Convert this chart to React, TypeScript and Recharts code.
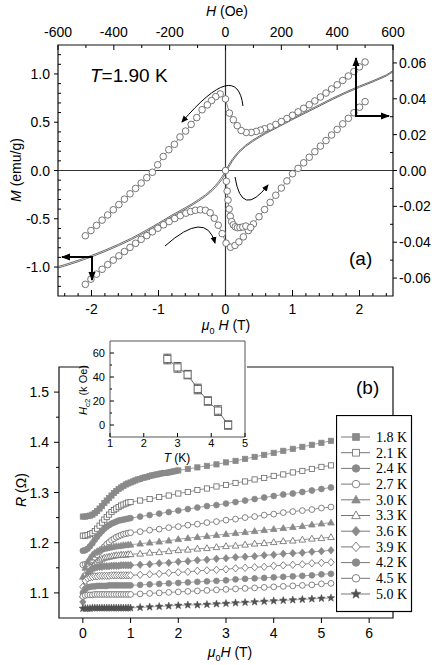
import React from 'react';
import { ComposedChart, Scatter, XAxis, YAxis, ReferenceLine, ReferenceArea, ErrorBar } from 'recharts';

const FONT = '"Liberation Sans", Arial, Helvetica, sans-serif';
const SERIF = '"Liberation Serif", "Times New Roman", serif';

// ---------- panel (a): M-H loop, read on top (Oe) and right (emu/g) axes
const loopDecH = [500, 480, 460, 440, 420, 400, 380, 360, 340, 320, 300, 280, 260, 240, 220, 200, 180, 160, 140, 125, 110, 92, 74, 56, 42, 28, 14, 0, -19, -35, -50, -65, -84, -103, -123, -143, -163, -183, -203, -223, -243, -262, -282, -302, -322, -342, -362, -382, -402, -422, -442, -462, -482, -502];
const loopDecM = [0.0605, 0.0578, 0.0552, 0.0527, 0.0502, 0.0478, 0.0455, 0.0432, 0.041, 0.0388, 0.0367, 0.0347, 0.0327, 0.0308, 0.029, 0.0273, 0.0257, 0.0243, 0.0233, 0.0225, 0.0218, 0.0212, 0.0212, 0.0223, 0.025, 0.0283, 0.032, 0.0399, 0.0427, 0.0412, 0.039, 0.0366, 0.0339, 0.0295, 0.0257, 0.022, 0.0187, 0.0146, 0.0116, 0.0078, 0.0032, -0.001, -0.004, -0.007, -0.01, -0.013, -0.016, -0.019, -0.0219, -0.0248, -0.0277, -0.0306, -0.0335, -0.0364];
const loopIncH = [-502, -482, -462, -442, -422, -402, -382, -362, -342, -322, -302, -282, -262, -242, -222, -202, -182, -162, -142, -125, -108, -90, -72, -55, -40, -26, -12, 2, 18, 34, 48, 64, 82, 100, 120, 140, 160, 180, 200, 220, 240, 260, 280, 300, 320, 340, 360, 380, 400, 420, 440, 460, 480, 500];
const loopIncM = [-0.0635, -0.0606, -0.0578, -0.0551, -0.0525, -0.05, -0.0476, -0.0452, -0.0429, -0.0406, -0.0384, -0.0363, -0.0342, -0.0322, -0.0303, -0.0285, -0.0268, -0.0252, -0.0238, -0.0229, -0.0222, -0.0219, -0.0222, -0.0236, -0.0266, -0.0305, -0.0352, -0.0405, -0.0428, -0.0418, -0.0398, -0.037, -0.0335, -0.0298, -0.0258, -0.0218, -0.0178, -0.0138, -0.0098, -0.0058, -0.0018, 0.0012, 0.0043, 0.0074, 0.0105, 0.0136, 0.0167, 0.0198, 0.0229, 0.026, 0.0291, 0.0322, 0.0353, 0.0384];
const virginH = [0, 3, 6, 9, 13, 17, 22, 28, 35, 43, 52, 62, 73, 90];
const virginM = [0, -0.006, -0.0115, -0.0165, -0.0215, -0.0255, -0.0285, -0.0303, -0.0314, -0.0319, -0.0318, -0.0315, -0.031, -0.0318];

// high-field curve, bottom (T) and left (emu/g) axes
const solidH = [-2.5, -2.4, -2.2, -2.0, -1.8, -1.6, -1.4, -1.2, -1.0, -0.8, -0.6, -0.5, -0.4, -0.3, -0.2, -0.15, -0.1, -0.05, 0, 0.05, 0.1, 0.15, 0.2, 0.3, 0.4, 0.5, 0.6, 0.8, 1.0, 1.2, 1.4, 1.6, 1.8, 2.0, 2.2, 2.4, 2.5];
const solidDec = [-0.995, -0.975, -0.93, -0.88, -0.825, -0.765, -0.7, -0.625, -0.545, -0.462, -0.385, -0.345, -0.3, -0.252, -0.192, -0.155, -0.112, -0.062, -0.005, 0.06, 0.115, 0.16, 0.2, 0.262, 0.312, 0.355, 0.395, 0.468, 0.54, 0.61, 0.68, 0.75, 0.815, 0.875, 0.93, 0.99, 1.035];
const solidInc = [-1.01, -0.99, -0.945, -0.895, -0.84, -0.78, -0.715, -0.64, -0.56, -0.478, -0.4, -0.36, -0.316, -0.268, -0.21, -0.175, -0.135, -0.09, -0.03, 0.035, 0.095, 0.142, 0.185, 0.248, 0.298, 0.342, 0.382, 0.455, 0.527, 0.597, 0.667, 0.737, 0.802, 0.862, 0.918, 0.978, 1.023];

const aBottomTicks = [-2.4, -2.2, -2, -1.8, -1.6, -1.4, -1.2, -1, -0.8, -0.6, -0.4, -0.2, 0, 0.2, 0.4, 0.6, 0.8, 1, 1.2, 1.4, 1.6, 1.8, 2, 2.2, 2.4];
const aTopTicks = [-600, -500, -400, -300, -200, -100, 0, 100, 200, 300, 400, 500, 600];
const aLeftTicks = [-1.2, -1.1, -1, -0.9, -0.8, -0.7, -0.6, -0.5, -0.4, -0.3, -0.2, -0.1, 0, 0.1, 0.2, 0.3, 0.4, 0.5, 0.6, 0.7, 0.8, 0.9, 1, 1.1, 1.2];
const aRightTicks = [-0.06, -0.05, -0.04, -0.03, -0.02, -0.01, 0, 0.01, 0.02, 0.03, 0.04, 0.05, 0.06];

// ---------- panel (b): R vs field
const denseH = [0, 0.05, 0.1, 0.15, 0.2, 0.25, 0.3, 0.35, 0.4, 0.45, 0.5, 0.55, 0.6, 0.65, 0.7, 0.75, 0.8, 0.85, 0.9, 0.95, 1];
const dense18H = [0, 0.05, 0.1, 0.15, 0.2, 0.25, 0.3, 0.35, 0.4, 0.45, 0.5, 0.55, 0.6, 0.65, 0.7, 0.75, 0.8, 0.85, 0.9, 0.95, 1, 1.05, 1.1, 1.15, 1.2, 1.25, 1.3, 1.35, 1.4, 1.45, 1.5, 1.55, 1.6, 1.65, 1.7, 1.75, 1.8, 1.85, 1.9, 1.95, 2];
const sparseH = [1.2, 1.4, 1.6, 1.8, 2, 2.2, 2.4, 2.6, 2.8, 3, 3.2, 3.4, 3.6, 3.8, 4, 4.2, 4.4, 4.6, 4.8, 5, 5.2];
const sparse18H = [2.2, 2.4, 2.6, 2.8, 3, 3.2, 3.4, 3.6, 3.8, 4, 4.2, 4.4, 4.6, 4.8, 5, 5.2];

const r18Dense = [1.252, 1.252, 1.253, 1.254, 1.256, 1.259, 1.263, 1.268, 1.273, 1.279, 1.284, 1.289, 1.294, 1.299, 1.303, 1.307, 1.31, 1.313, 1.316, 1.318, 1.32, 1.322, 1.324, 1.326, 1.327, 1.329, 1.33, 1.331, 1.333, 1.334, 1.335, 1.336, 1.337, 1.338, 1.339, 1.339, 1.34, 1.341, 1.342, 1.343, 1.344];
const r18Sparse = [1.347, 1.35, 1.353, 1.356, 1.36, 1.363, 1.367, 1.371, 1.375, 1.379, 1.383, 1.387, 1.391, 1.395, 1.399, 1.403];
const r21Dense = [1.214, 1.214, 1.215, 1.217, 1.219, 1.223, 1.228, 1.234, 1.24, 1.246, 1.251, 1.256, 1.261, 1.265, 1.268, 1.271, 1.274, 1.276, 1.278, 1.28, 1.281];
const r21Sparse = [1.284, 1.287, 1.291, 1.294, 1.298, 1.301, 1.305, 1.308, 1.312, 1.315, 1.319, 1.322, 1.326, 1.329, 1.333, 1.336, 1.34, 1.343, 1.347, 1.351, 1.354];
const r24Dense = [1.184, 1.185, 1.188, 1.193, 1.199, 1.206, 1.212, 1.218, 1.223, 1.228, 1.232, 1.235, 1.238, 1.24, 1.242, 1.244, 1.245, 1.246, 1.247, 1.248, 1.249];
const r24Sparse = [1.252, 1.255, 1.258, 1.261, 1.264, 1.267, 1.27, 1.273, 1.275, 1.278, 1.281, 1.284, 1.287, 1.29, 1.293, 1.296, 1.298, 1.301, 1.304, 1.307, 1.31];
const r27Dense = [1.156, 1.157, 1.159, 1.162, 1.166, 1.171, 1.176, 1.182, 1.187, 1.192, 1.197, 1.201, 1.205, 1.208, 1.211, 1.213, 1.215, 1.217, 1.218, 1.219, 1.22];
const r27Sparse = [1.222, 1.225, 1.227, 1.23, 1.232, 1.235, 1.237, 1.24, 1.242, 1.245, 1.247, 1.25, 1.252, 1.255, 1.257, 1.26, 1.262, 1.264, 1.266, 1.269, 1.271];
const r30Dense = [1.132, 1.15, 1.162, 1.17, 1.176, 1.18, 1.183, 1.185, 1.187, 1.188, 1.189, 1.19, 1.191, 1.192, 1.193, 1.193, 1.194, 1.195, 1.195, 1.196, 1.196];
const r30Sparse = [1.198, 1.2, 1.202, 1.204, 1.207, 1.209, 1.211, 1.213, 1.215, 1.217, 1.219, 1.221, 1.223, 1.225, 1.227, 1.229, 1.231, 1.233, 1.236, 1.238, 1.24];
const r33Dense = [1.096, 1.118, 1.133, 1.144, 1.152, 1.158, 1.162, 1.165, 1.168, 1.17, 1.171, 1.172, 1.173, 1.174, 1.175, 1.175, 1.176, 1.176, 1.176, 1.177, 1.177];
const r33Sparse = [1.178, 1.18, 1.181, 1.183, 1.185, 1.186, 1.188, 1.189, 1.191, 1.193, 1.194, 1.196, 1.198, 1.199, 1.201, 1.203, 1.204, 1.206, 1.208, 1.209, 1.211];
const r36Dense = [1.082, 1.128, 1.139, 1.145, 1.148, 1.15, 1.151, 1.152, 1.152, 1.153, 1.153, 1.153, 1.154, 1.154, 1.154, 1.154, 1.155, 1.155, 1.155, 1.155, 1.155];
const r36Sparse = [1.156, 1.157, 1.159, 1.16, 1.162, 1.163, 1.165, 1.166, 1.168, 1.169, 1.171, 1.172, 1.173, 1.175, 1.176, 1.178, 1.179, 1.18, 1.182, 1.183, 1.185];
const r39Dense = [1.112, 1.124, 1.129, 1.131, 1.132, 1.133, 1.133, 1.134, 1.134, 1.134, 1.134, 1.134, 1.135, 1.135, 1.135, 1.135, 1.135, 1.135, 1.135, 1.135, 1.135];
const r39Sparse = [1.136, 1.137, 1.138, 1.14, 1.141, 1.142, 1.144, 1.145, 1.146, 1.147, 1.149, 1.15, 1.151, 1.152, 1.154, 1.155, 1.156, 1.157, 1.159, 1.16, 1.161];
const r42Dense = [1.1, 1.108, 1.111, 1.112, 1.113, 1.113, 1.114, 1.114, 1.114, 1.114, 1.114, 1.115, 1.115, 1.115, 1.115, 1.115, 1.115, 1.115, 1.115, 1.115, 1.115];
const r42Sparse = [1.116, 1.117, 1.118, 1.119, 1.12, 1.121, 1.122, 1.123, 1.124, 1.125, 1.127, 1.128, 1.129, 1.13, 1.131, 1.132, 1.133, 1.134, 1.135, 1.137, 1.138];
const r45Dense = [1.093, 1.095, 1.096, 1.096, 1.096, 1.097, 1.097, 1.097, 1.097, 1.097, 1.097, 1.097, 1.097, 1.097, 1.097, 1.097, 1.097, 1.097, 1.097, 1.097, 1.097];
const r45Sparse = [1.098, 1.099, 1.1, 1.101, 1.102, 1.103, 1.104, 1.105, 1.106, 1.107, 1.108, 1.109, 1.11, 1.111, 1.112, 1.113, 1.114, 1.115, 1.116, 1.118, 1.119];
const r50Dense = [1.069, 1.069, 1.069, 1.069, 1.07, 1.07, 1.07, 1.07, 1.07, 1.07, 1.07, 1.07, 1.07, 1.07, 1.07, 1.07, 1.07, 1.07, 1.07, 1.07, 1.07];
const r50Sparse = [1.071, 1.072, 1.073, 1.074, 1.075, 1.076, 1.076, 1.077, 1.078, 1.079, 1.08, 1.081, 1.082, 1.083, 1.084, 1.085, 1.086, 1.087, 1.088, 1.089, 1.09];

const bBottomTicks = [0, 1, 2, 3, 4, 5, 6];
const bLeftTicks = [1.1, 1.15, 1.2, 1.25, 1.3, 1.35, 1.4, 1.45, 1.5];

// inset: Hc2(T)
const insetT = [2.7, 3.0, 3.3, 3.6, 3.9, 4.2, 4.5];
const insetHc2 = [55, 48, 42, 30, 20, 12, 0];
const insetErr = [4, 4, 3.5, 4, 3.5, 4, 3.5];
const insetXTicks = [1, 2, 3, 4, 5];
const insetYTicks = [0, 10, 20, 30, 40, 50, 60];

const GRAY = '#8a8a8a';
const OPEN = '#666';

const zip = (xs: number[], ys: number[]) => xs.map((x, i) => ({ x, y: ys[i] }));

type Kind = 'square' | 'circle' | 'triangle' | 'diamond' | 'star';

function starPts(cx: number, cy: number, r: number) {
  const pts: string[] = [];
  for (let i = 0; i < 10; i++) {
    const a = -Math.PI / 2 + (i * Math.PI) / 5;
    const rr = i % 2 === 0 ? r : r * 0.42;
    pts.push(`${cx + rr * Math.cos(a)},${cy + rr * Math.sin(a)}`);
  }
  return pts.join(' ');
}

function marker(kind: Kind, filled: boolean, color: string, cx: number, cy: number, s = 1) {
  const fill = filled ? color : '#fff';
  const sw = 0.8;
  if (kind === 'square') return <rect x={cx - 2.6 * s} y={cy - 2.6 * s} width={5.2 * s} height={5.2 * s} fill={fill} stroke={color} strokeWidth={sw} />;
  if (kind === 'circle') return <circle cx={cx} cy={cy} r={2.9 * s} fill={fill} stroke={color} strokeWidth={sw} />;
  if (kind === 'triangle') return <polygon points={`${cx},${cy - 3.5 * s} ${cx + 3.3 * s},${cy + 2.4 * s} ${cx - 3.3 * s},${cy + 2.4 * s}`} fill={fill} stroke={color} strokeWidth={sw} />;
  if (kind === 'diamond') return <polygon points={`${cx},${cy - 3.7 * s} ${cx + 3.2 * s},${cy} ${cx},${cy + 3.7 * s} ${cx - 3.2 * s},${cy}`} fill={fill} stroke={color} strokeWidth={sw} />;
  return <polygon points={starPts(cx, cy, 4 * s)} fill={fill} stroke={color} strokeWidth={0.5} />;
}

const bSeries = [
  { name: '1.8 K', h: dense18H.concat(sparse18H), r: r18Dense.concat(r18Sparse), kind: 'square' as Kind, filled: true },
  { name: '2.1 K', h: denseH.concat(sparseH), r: r21Dense.concat(r21Sparse), kind: 'square' as Kind, filled: false },
  { name: '2.4 K', h: denseH.concat(sparseH), r: r24Dense.concat(r24Sparse), kind: 'circle' as Kind, filled: true },
  { name: '2.7 K', h: denseH.concat(sparseH), r: r27Dense.concat(r27Sparse), kind: 'circle' as Kind, filled: false },
  { name: '3.0 K', h: denseH.concat(sparseH), r: r30Dense.concat(r30Sparse), kind: 'triangle' as Kind, filled: true },
  { name: '3.3 K', h: denseH.concat(sparseH), r: r33Dense.concat(r33Sparse), kind: 'triangle' as Kind, filled: false },
  { name: '3.6 K', h: denseH.concat(sparseH), r: r36Dense.concat(r36Sparse), kind: 'diamond' as Kind, filled: true },
  { name: '3.9 K', h: denseH.concat(sparseH), r: r39Dense.concat(r39Sparse), kind: 'diamond' as Kind, filled: false },
  { name: '4.2 K', h: denseH.concat(sparseH), r: r42Dense.concat(r42Sparse), kind: 'circle' as Kind, filled: true },
  { name: '4.5 K', h: denseH.concat(sparseH), r: r45Dense.concat(r45Sparse), kind: 'circle' as Kind, filled: false },
  { name: '5.0 K', h: denseH.concat(sparseH), r: r50Dense.concat(r50Sparse), kind: 'star' as Kind, filled: true },
];
const seriesColor = (s: { kind: Kind; filled: boolean }) => (s.kind === 'star' ? '#505050' : s.filled ? GRAY : OPEN);

// custom tick: draws its own tick line (in / out of the frame) and the label on majors
type Side = 'left' | 'right' | 'top' | 'bottom';
interface TickCfg { side: Side; major: (v: number) => boolean; fmt: (v: number) => string; size: number; majIn: number; majOut: number; minIn: number; minOut: number; lab: number; }

function tickOf(c: TickCfg) {
  return (p: any) => {
    const { x, y, payload } = p;
    const v = payload.value;
    const isMaj = c.major(v);
    const inn = isMaj ? c.majIn : c.minIn;
    const out = isMaj ? c.majOut : c.minOut;
    const st = { stroke: '#000', strokeWidth: 1 };
    let ln = null;
    let tx = null;
    if (c.side === 'bottom') {
      if (inn || out) ln = <line x1={x} x2={x} y1={y - inn} y2={y + out} {...st} />;
      if (isMaj) tx = <text x={x} y={y + c.lab} textAnchor="middle" fontSize={c.size} fontFamily={FONT} fill="#000">{c.fmt(v)}</text>;
    } else if (c.side === 'top') {
      if (inn || out) ln = <line x1={x} x2={x} y1={y + inn} y2={y - out} {...st} />;
      if (isMaj) tx = <text x={x} y={y - c.lab} textAnchor="middle" fontSize={c.size} fontFamily={FONT} fill="#000">{c.fmt(v)}</text>;
    } else if (c.side === 'left') {
      if (inn || out) ln = <line x1={x + inn} x2={x - out} y1={y} y2={y} {...st} />;
      if (isMaj) tx = <text x={x - c.lab} y={y + c.size * 0.36} textAnchor="end" fontSize={c.size} fontFamily={FONT} fill="#000">{c.fmt(v)}</text>;
    } else {
      if (inn || out) ln = <line x1={x - inn} x2={x + out} y1={y} y2={y} {...st} />;
      if (isMaj) tx = <text x={x + c.lab} y={y + c.size * 0.36} textAnchor="start" fontSize={c.size} fontFamily={FONT} fill="#000">{c.fmt(v)}</text>;
    }
    return <g>{ln}{tx}</g>;
  };
}

const near = (a: number) => Math.abs(a - Math.round(a)) < 1e-6;
const axisCommon = { type: 'number' as const, allowDataOverflow: true, interval: 0 as const, tickSize: 0, tickMargin: 0, axisLine: false, tickLine: false };

function PanelA() {
  return (
    <ComposedChart width={436} height={340} margin={{ top: 0, right: 0, bottom: 0, left: 0 }}>
      <XAxis xAxisId="t" dataKey="x" orientation="bottom" height={44} domain={[-2.5, 2.5]} ticks={aBottomTicks} {...axisCommon}
        tick={tickOf({ side: 'bottom', major: near, fmt: (v) => String(v), size: 14, majIn: 6, majOut: 0, minIn: 3, minOut: 0, lab: 18 })} />
      <XAxis xAxisId="oe" dataKey="x" orientation="top" height={45} domain={[-600, 600]} ticks={aTopTicks} {...axisCommon}
        tick={tickOf({ side: 'top', major: (v) => v % 200 === 0, fmt: (v) => String(v), size: 14, majIn: 5, majOut: 0, minIn: 3, minOut: 0, lab: 8 })} />
      <YAxis yAxisId="l" dataKey="y" orientation="left" width={58} domain={[-1.3, 1.3]} ticks={aLeftTicks} {...axisCommon}
        tick={tickOf({ side: 'left', major: (v) => near(v * 2), fmt: (v) => v.toFixed(1), size: 14, majIn: 0, majOut: 4, minIn: 3, minOut: 0, lab: 8 })} />
      <YAxis yAxisId="r" dataKey="y" orientation="right" width={43} domain={[-0.07, 0.07]} ticks={aRightTicks} {...axisCommon}
        tick={tickOf({ side: 'right', major: (v) => near(v * 50), fmt: (v) => v.toFixed(2), size: 14, majIn: 0, majOut: 4, minIn: 3, minOut: 0, lab: 6 })} />
      <ReferenceArea xAxisId="t" yAxisId="l" x1={-2.5} x2={2.5} y1={-1.3} y2={1.3} fill="none" fillOpacity={0} stroke="#111" strokeWidth={1.2} />
      <ReferenceLine xAxisId="t" yAxisId="l" x={0} stroke="#333" strokeWidth={1.2} />
      <ReferenceLine xAxisId="t" yAxisId="l" y={0} stroke="#333" strokeWidth={1.2} />
      <Scatter xAxisId="t" yAxisId="l" data={zip(solidH, solidDec)} line={{ stroke: '#444', strokeWidth: 0.8 }} lineType="joint" shape={() => <g />} isAnimationActive={false} />
      <Scatter xAxisId="t" yAxisId="l" data={zip(solidH, solidInc)} line={{ stroke: '#444', strokeWidth: 0.8 }} lineType="joint" shape={() => <g />} isAnimationActive={false} />
      {[zip(loopDecH, loopDecM), zip(loopIncH, loopIncM), zip(virginH, virginM)].map((d, i) => (
        <Scatter key={i} xAxisId="oe" yAxisId="r" data={d} line={{ stroke: '#666', strokeWidth: 0.8 }} lineType="joint"
          shape={(p: any) => <circle cx={p.cx} cy={p.cy} r={3.3} fill="#fff" stroke="#666" strokeWidth={0.9} />} isAnimationActive={false} />
      ))}
    </ComposedChart>
  );
}

function PanelB() {
  return (
    <ComposedChart width={436} height={325} margin={{ top: 27, right: 43, bottom: 0, left: 0 }}>
      <XAxis dataKey="x" orientation="bottom" height={47} domain={[-0.5, 6.5]} ticks={bBottomTicks} {...axisCommon}
        tick={tickOf({ side: 'bottom', major: () => true, fmt: (v) => String(v), size: 14, majIn: 0, majOut: 5, minIn: 0, minOut: 0, lab: 20 })} />
      <YAxis dataKey="y" orientation="left" width={59} domain={[1.05, 1.55]} ticks={bLeftTicks} {...axisCommon}
        tick={tickOf({ side: 'left', major: (v) => near(v * 10), fmt: (v) => v.toFixed(1), size: 14, majIn: 0, majOut: 5, minIn: 0, minOut: 3, lab: 10 })} />
      <ReferenceArea x1={-0.5} x2={6.5} y1={1.05} y2={1.55} fill="none" fillOpacity={0} stroke="#111" strokeWidth={1.2} />
      {bSeries.map((s) => {
        const col = seriesColor(s);
        return (
          <Scatter key={s.name} name={s.name} data={zip(s.h, s.r)} line={{ stroke: s.filled ? GRAY : '#777', strokeWidth: 0.8 }} lineType="joint"
            shape={(p: any) => marker(s.kind, s.filled, col, p.cx, p.cy)} isAnimationActive={false} />
        );
      })}
    </ComposedChart>
  );
}

function Inset() {
  const data = insetT.map((t, i) => ({ x: t, y: insetHc2[i], err: insetErr[i] }));
  return (
    <ComposedChart width={181} height={130} margin={{ top: 7, right: 6, bottom: 0, left: 0 }}>
      <XAxis dataKey="x" orientation="bottom" height={27} domain={[1, 5]} ticks={insetXTicks} {...axisCommon}
        tick={tickOf({ side: 'bottom', major: () => true, fmt: (v) => String(v), size: 11, majIn: 4, majOut: 0, minIn: 0, minOut: 0, lab: 10 })} />
      <YAxis dataKey="y" orientation="left" width={40} domain={[-10, 70]} ticks={insetYTicks} {...axisCommon}
        tick={tickOf({ side: 'left', major: (v) => v % 20 === 0, fmt: (v) => String(v), size: 11, majIn: 4, majOut: 0, minIn: 2, minOut: 0, lab: 5 })} />
      <ReferenceArea x1={1} x2={5} y1={-10} y2={70} fill="none" fillOpacity={0} stroke="#555" strokeWidth={1} />
      <Scatter data={data} line={{ stroke: '#444', strokeWidth: 0.8 }} lineType="joint"
        shape={(p: any) => <rect x={p.cx - 3.6} y={p.cy - 3.6} width={7.2} height={7.2} fill="#fff" stroke="#666" strokeWidth={1} />} isAnimationActive={false}>
        <ErrorBar dataKey="err" direction="y" width={4} stroke="#555" strokeWidth={1} />
      </Scatter>
    </ComposedChart>
  );
}

function LegendBox() {
  return (
    <svg width={77} height={198} style={{ position: 'absolute', left: 336, top: 415 }}>
      <rect x={0.5} y={0.5} width={75} height={196} fill="#fff" stroke="#000" strokeWidth={1.2} />
      {bSeries.map((s, i) => {
        const y = 22 + i * 15.7;
        return (
          <g key={s.name}>
            <line x1={5} x2={34} y1={y} y2={y} stroke="#777" strokeWidth={1} />
            {marker(s.kind, s.filled, seriesColor(s), 20, y, 1.3)}
            <text x={40} y={y + 4.8} fontSize={14} fontFamily={SERIF} fill="#000">{s.name}</text>
          </g>
        );
      })}
    </svg>
  );
}

function Overlay() {
  return (
    <svg width={436} height={665} style={{ position: 'absolute', left: 0, top: 0, pointerEvents: 'none' }} fontFamily={FONT}>
      <defs>
        <marker id="hs" markerWidth="8" markerHeight="8" refX="6" refY="4" orient="auto" markerUnits="userSpaceOnUse">
          <path d="M0,1 L7,4 L0,7 Z" fill="#000" />
        </marker>
        <marker id="hb" markerWidth="10" markerHeight="10" refX="8" refY="5" orient="auto" markerUnits="userSpaceOnUse">
          <path d="M0,1.5 L9,5 L0,8.5 Z" fill="#000" />
        </marker>
      </defs>
      {/* panel (a) */}
      <text x={227} y={16} textAnchor="middle" fontSize={14}><tspan fontStyle="italic">H</tspan>  (Oe)</text>
      <text x={90} y={82} fontSize={19}><tspan fontStyle="italic">T</tspan>=1.90 K</text>
      <text x={349} y={265} fontSize={19}>(a)</text>
      <text transform="translate(21,170) rotate(-90)" textAnchor="middle" fontSize={14}><tspan fontStyle="italic">M</tspan> (emu/g)</text>
      <text x={226} y={330} textAnchor="middle" fontSize={14}>
        <tspan fontStyle="italic">μ</tspan><tspan fontSize={9} dy={4}>0</tspan><tspan dx={4} dy={-4} fontStyle="italic">H</tspan> (T)
      </text>
      <path d="M243,106 Q237,58 182,122" fill="none" stroke="#000" strokeWidth={1} markerEnd="url(#hs)" />
      <path d="M235,177 Q241.7,219 268,185" fill="none" stroke="#000" strokeWidth={1} markerEnd="url(#hs)" />
      <path d="M165,246 Q206,209.5 215,243" fill="none" stroke="#000" strokeWidth={1} markerEnd="url(#hs)" />
      <path d="M356,116 L356,58" stroke="#000" strokeWidth={2} markerEnd="url(#hb)" />
      <path d="M355,116 L389,116" stroke="#000" strokeWidth={2} markerEnd="url(#hb)" />
      <path d="M93,257 L62,257" stroke="#000" strokeWidth={2} markerEnd="url(#hb)" />
      <path d="M92,256 L92,280" stroke="#000" strokeWidth={2} markerEnd="url(#hb)" />
      {/* panel (b) */}
      <text x={356} y={394} fontSize={19}>(b)</text>
      <text transform="translate(26,490) rotate(-90)" textAnchor="middle" fontSize={14}><tspan fontStyle="italic">R</tspan> (Ω)</text>
      <text x={230} y={657} textAnchor="middle" fontSize={14}>
        <tspan fontStyle="italic">μ</tspan><tspan fontSize={9} dy={4}>0</tspan><tspan dy={-4} fontStyle="italic">H</tspan> (T)
      </text>
      {/* inset */}
      <text transform="translate(87,390) rotate(-90)" textAnchor="middle" fontSize={11}>
        <tspan fontStyle="italic">H</tspan><tspan fontSize={8} dy={3}>c2</tspan><tspan dy={-3}> (k Oe)</tspan>
      </text>
      <text x={177} y={462} textAnchor="middle" fontSize={12}><tspan fontStyle="italic">T</tspan> (K)</text>
    </svg>
  );
}

export default function App() {
  return (
    <div style={{ position: 'absolute', left: 0, top: 0, width: 436, height: 665, background: '#fff', fontFamily: FONT }}>
      <div style={{ position: 'absolute', left: 0, top: 0 }}><PanelA /></div>
      <div style={{ position: 'absolute', left: 0, top: 340 }}><PanelB /></div>
      <div style={{ position: 'absolute', left: 88, top: 336, width: 159, height: 105, background: '#fff' }} />
      <div style={{ position: 'absolute', left: 70, top: 334 }}><Inset /></div>
      <LegendBox />
      <Overlay />
    </div>
  );
}
